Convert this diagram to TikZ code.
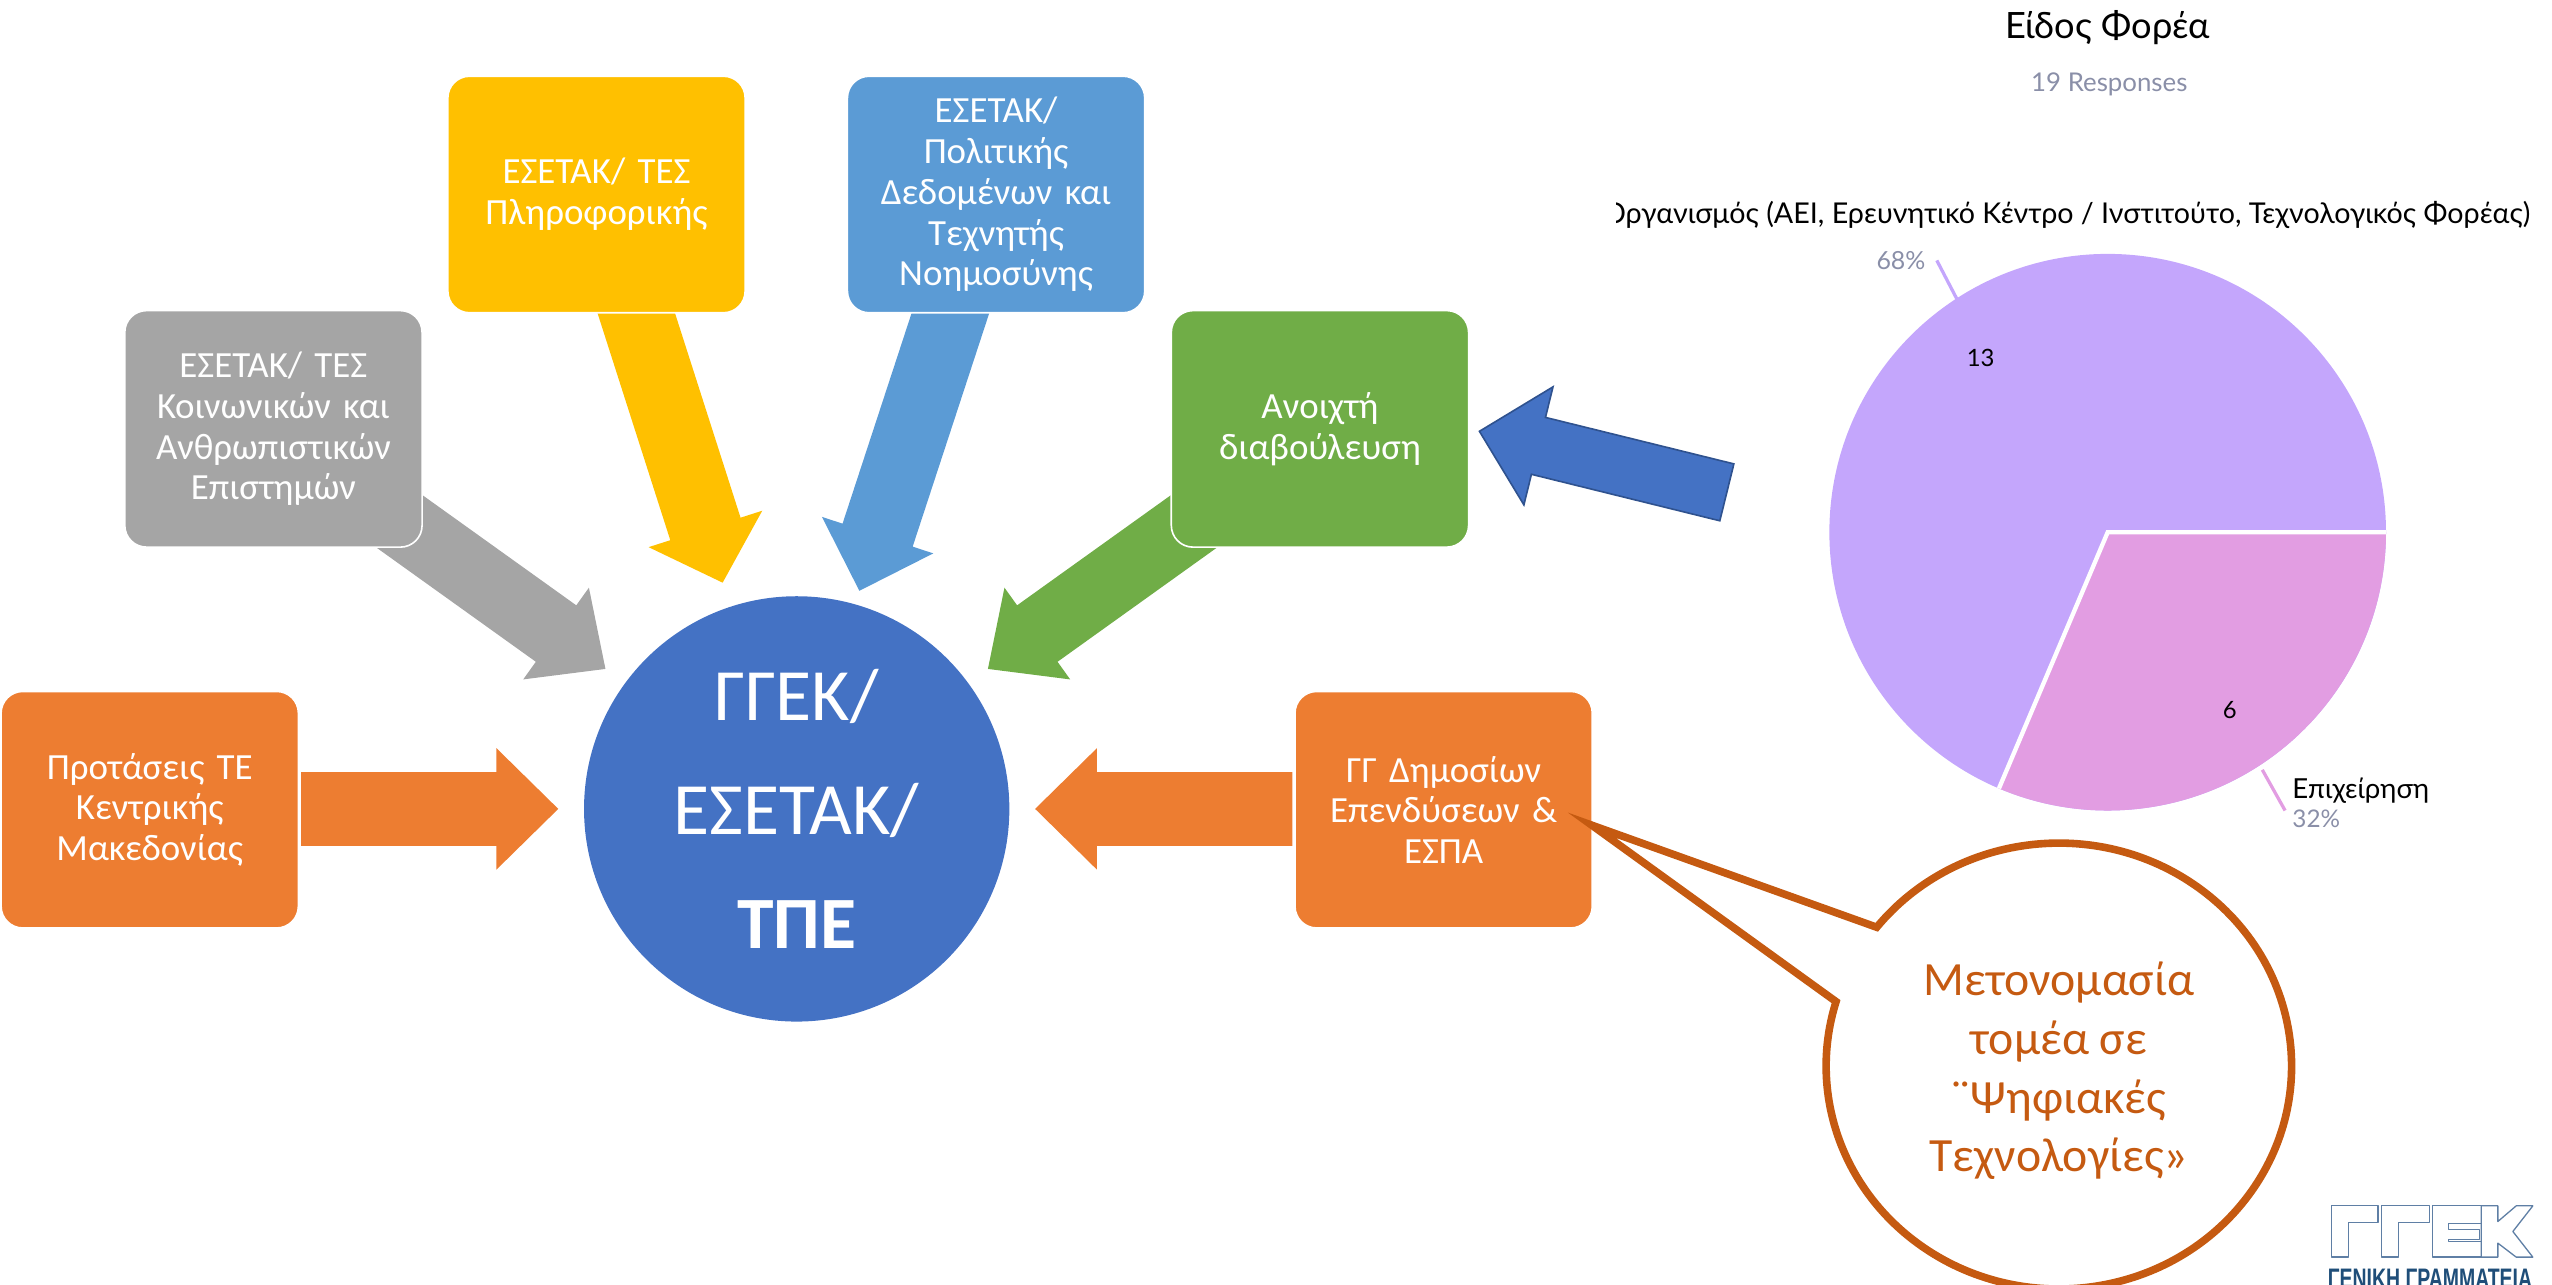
\documentclass[tikz,border=0pt]{standalone}
\usepackage{fontspec}
\setmainfont{Carlito}
\newfontfamily\chartfont{Lato}
\newfontfamily\logofont{Liberation Sans}
\usetikzlibrary{calc}

\definecolor{boxorange}{HTML}{ED7D31}
\definecolor{boxgray}{HTML}{A5A5A5}
\definecolor{boxyellow}{HTML}{FFC000}
\definecolor{boxblue}{HTML}{5B9BD5}
\definecolor{boxgreen}{HTML}{70AD47}
\definecolor{hubblue}{HTML}{4472C4}
\definecolor{hubedge}{HTML}{2F528F}
\definecolor{calloutrust}{HTML}{C55A11}
\definecolor{pielilac}{HTML}{C4A6FC}
\definecolor{piepink}{HTML}{E29DE2}
\definecolor{chartgray}{HTML}{8A8FA8}
\definecolor{logoedge}{HTML}{5F7FA5}
\definecolor{logotext}{HTML}{1F4E79}

\tikzset{every picture/.style={line width=0.75pt}}
\tikzset{
  roundbox/.style={rounded corners=10pt,draw=white,minimum width=137pt,minimum height=109pt,inner sep=2pt,
    text width=128pt,align=center,text=white,font=\fontsize{17}{18.75}\selectfont},
  logopiece/.style={fill=white,draw=logoedge,line width=0.6pt,line join=round},
}
% style, from, to, shaft half width, head half width, head length
\newcommand{\blockarrow}[6]{
  \coordinate (headbase) at ($(#3)!#6!(#2)$);
  \path[#1] ($(#2)!#4!90:(#3)$) -- ($(headbase)!#4!-90:(#2)$) -- ($(headbase)!#5!-90:(#2)$) -- (#3)
    -- ($(headbase)!#5!90:(#2)$) -- ($(headbase)!#4!90:(#2)$) -- ($(#2)!#4!-90:(#3)$) -- cycle;
}

\begin{document}
\begin{tikzpicture}[x=0.75pt,y=0.75pt,yscale=-1,xscale=1]
\useasboundingbox (0,0) rectangle (1568,789);

%Arrow ends
\coordinate (proposalsStart) at (185,497);
\coordinate (proposalsTip) at (343,497);
\coordinate (humanitiesStart) at (231,310);
\coordinate (humanitiesTip) at (372,411);
\coordinate (informaticsStart) at (386,177);
\coordinate (informaticsTip) at (444,358);
\coordinate (datapolicyStart) at (589,177);
\coordinate (datapolicyTip) at (528,363);
\coordinate (consultationStart) at (748,310);
\coordinate (consultationTip) at (607,411);
\coordinate (investmentsStart) at (794,497);
\coordinate (investmentsTip) at (636,497);
\coordinate (chartStart) at (1061,302.5);
\coordinate (chartTip) at (909,265);

%Arrows
\blockarrow{fill=boxorange}{proposalsStart}{proposalsTip}{17pt}{28pt}{28.5pt}
\blockarrow{fill=boxgray}{humanitiesStart}{humanitiesTip}{16pt}{26pt}{28pt}
\blockarrow{fill=boxyellow}{informaticsStart}{informaticsTip}{17pt}{27.5pt}{26pt}
\blockarrow{fill=boxblue}{datapolicyStart}{datapolicyTip}{17pt}{27pt}{27pt}
\blockarrow{fill=boxgreen}{consultationStart}{consultationTip}{16pt}{26pt}{28pt}
\blockarrow{fill=boxorange}{investmentsStart}{investmentsTip}{17pt}{28pt}{28.5pt}
\blockarrow{fill=hubblue,draw=hubedge}{chartStart}{chartTip}{13.5pt}{28pt}{28pt}

%Boxes
\node [roundbox,fill=boxorange] (proposals) at (92,497.5) {Προτάσεις ΤΕ\\Κεντρικής\\Μακεδονίας};
\node [roundbox,fill=boxgray] (humanities) at (168,263.5) {ΕΣΕΤΑΚ/ ΤΕΣ\\Κοινωνικών και\\Ανθρωπιστικών\\Επιστημών};
\node [roundbox,fill=boxyellow] (informatics) at (366.5,119.5) {ΕΣΕΤΑΚ/ ΤΕΣ\\Πληροφορικής};
\node [roundbox,fill=boxblue] (datapolicy) at (612,119.5) {ΕΣΕΤΑΚ/\\Πολιτικής\\Δεδομένων και\\Τεχνητής\\Νοημοσύνης};
\node [roundbox,fill=boxgreen] (consultation) at (811,263.5) {Ανοιχτή\\διαβούλευση};
\node [roundbox,fill=boxorange] (investments) at (887,497.5) {ΓΓ Δημοσίων\\Επενδύσεων \&\\ΕΣΠΑ};

%Central circle
\node [circle,fill=hubblue,minimum size=196pt,inner sep=0pt,align=center,text=white,
  font=\fontsize{34}{52.5}\selectfont] (hub) at (489.5,497) {ΓΓΕΚ/\\ΕΣΕΤΑΚ/\\\textbf{ΤΠΕ}};

%Callout
\node [align=center,text=calloutrust,font=\fontsize{22}{27}\selectfont] (callout) at (1265,658)
  {Μετονομασία\\τομέα σε\\¨Ψηφιακές\\Τεχνολογίες»};
\coordinate (calloutCentre) at (1265,655);
\coordinate (calloutTip) at (978,507);
\draw [calloutrust,line width=3.5pt,line join=miter] (calloutTip) -- ($(calloutCentre)+(218.5:143 and 137)$)
  arc [start angle=218.5,end angle=556.8,x radius=143,y radius=137] -- cycle;

%Pie chart
\coordinate (pie) at (1295,327);
\fill [pielilac] (pie) circle (171);
\fill [piepink] (pie) -- ++(0:171) arc [start angle=0,end angle=113,radius=171] -- cycle;
\draw [white,line width=2pt] (1466,327) -- (pie) -- ($(pie)+(113:171)$);
\coordinate (lilacLeaderA) at (1203,185);
\coordinate (lilacLeaderB) at (1190,160);
\coordinate (pinkLeaderA) at (1390,473);
\coordinate (pinkLeaderB) at (1404,498);
\draw [pielilac,line width=1.5pt] (lilacLeaderA) -- (lilacLeaderB);
\draw [piepink,line width=1.5pt] (pinkLeaderA) -- (pinkLeaderB);

%Chart text
\node [font=\chartfont\fontsize{16.7}{20}\selectfont] (charttitle) at (1295,17) {Είδος Φορέα};
\node [font=\chartfont\fontsize{11.9}{14}\selectfont,text=chartgray] (responses) at (1296,52) {19 Responses};
\begin{scope}
\clip (993,110) rectangle (1568,150);
\node [anchor=east,inner sep=0pt,font=\chartfont\fontsize{13.2}{16}\selectfont] (orglabel) at (1555,132)
  {Οργανισμός (ΑΕΙ, Ερευνητικό Κέντρο / Ινστιτούτο, Τεχνολογικός Φορέας)};
\end{scope}
\node [font=\chartfont\fontsize{11.5}{14}\selectfont,text=chartgray] (orgshare) at (1168,160) {68\%};
\node [font=\chartfont\fontsize{11}{13}\selectfont] (orgcount) at (1217,220) {13};
\node [font=\chartfont\fontsize{11}{13}\selectfont] (bizcount) at (1370,436) {6};
\node [anchor=west,inner sep=0pt,font=\chartfont\fontsize{12.7}{15}\selectfont] (bizlabel) at (1408,486) {Επιχείρηση};
\node [anchor=west,inner sep=0pt,font=\chartfont\fontsize{11.2}{14}\selectfont,text=chartgray] (bizshare) at (1408,503) {32\%};

%Logo
\begin{scope}[shift={(1353.6,706.5)},x=0.1535pt,y=0.1535pt]
\draw [logopiece] (385,168) -- (525,168) -- (525,218) -- (437,218) -- (437,322) -- (385,322) -- cycle;
\draw [logopiece] (535,168) -- (680,168) -- (680,218) -- (587,218) -- (587,322) -- (535,322) -- cycle;
\draw [logopiece] (688,168) -- (835,168) -- (835,222) -- (737,222) -- (737,238) -- (830,238) -- (830,268) -- (737,268) -- (737,275) -- (835,275) -- (835,322) -- (688,322) -- cycle;
\draw [logopiece] (835,168) -- (885,168) -- (885,215) -- (940,168) -- (990,168) -- (930,245) -- (990,322) -- (940,322) -- (885,280) -- (885,322) -- (835,322) -- cycle;
\end{scope}
\node [anchor=north west,inner sep=0pt,text=logotext,xscale=0.69,font=\logofont\bfseries\fontsize{13}{15}\selectfont] (logotitle) at (1430,779.5) {ΓΕΝΙΚΗ ΓΡΑΜΜΑΤΕΙΑ};

\end{tikzpicture}
\end{document}
